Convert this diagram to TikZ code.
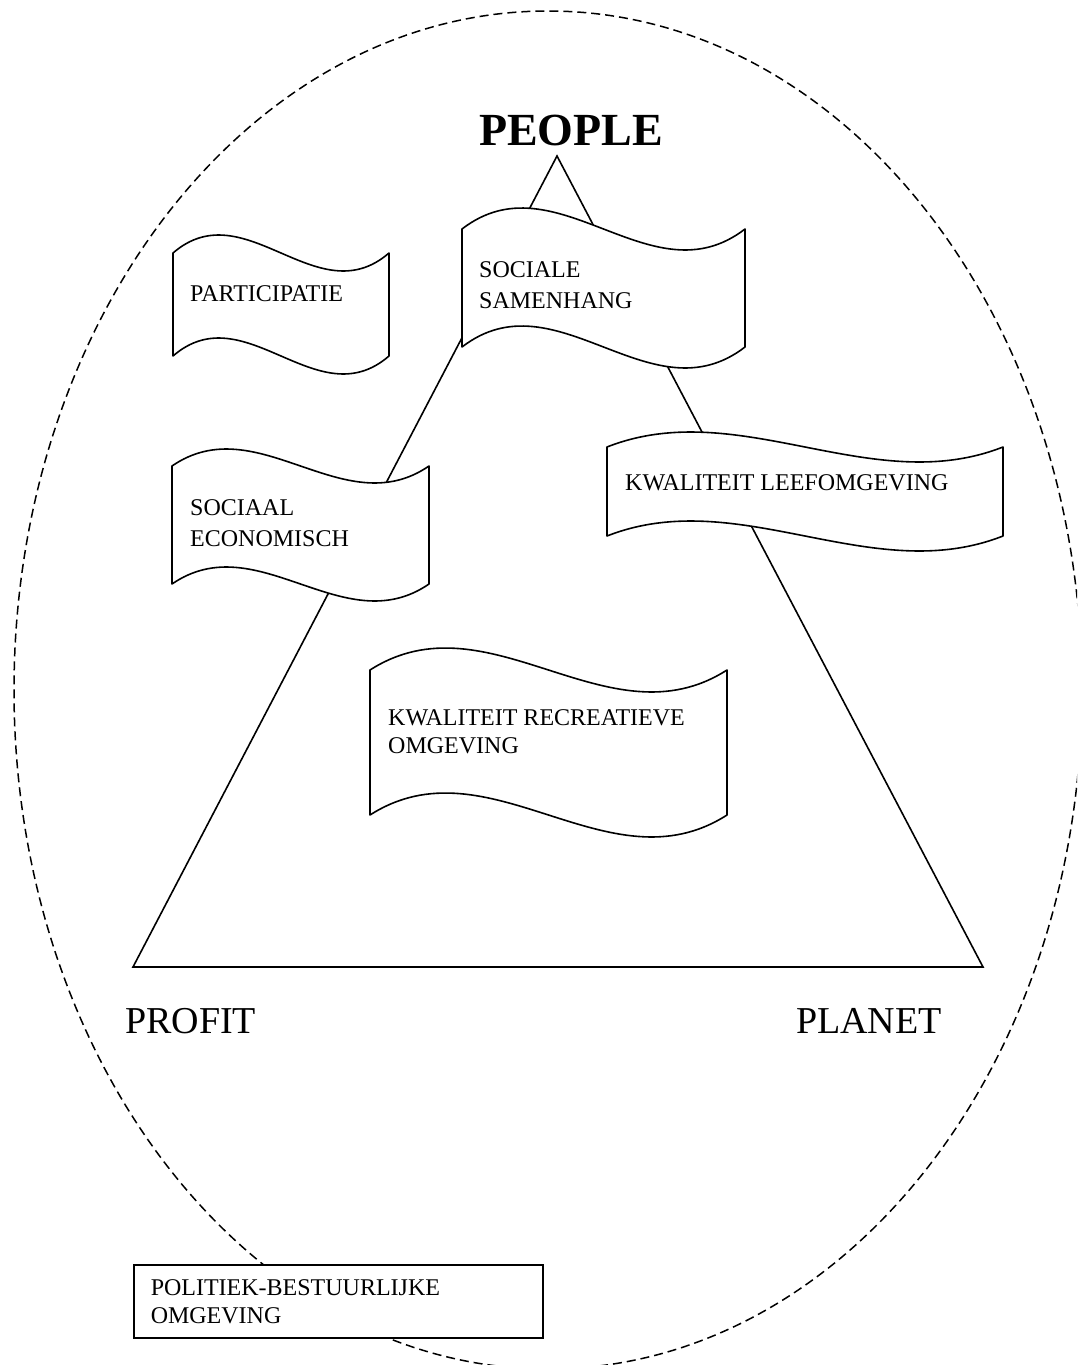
\documentclass[tikz,border=0pt]{standalone}
\usepackage{fontspec}
\setmainfont{Liberation Serif}
\usepackage{tikz}
\usetikzlibrary{calc}

\begin{document}
\begin{tikzpicture}[x=1pt,y=-1pt,
  wavebox/.style={draw, fill=white, line width=1.6pt, line join=round},
  flagtext/.style={inner sep=0pt, anchor=base west, align=left, font=\fontsize{24}{31}\selectfont},
  pointlabel/.style={inner sep=0pt, anchor=base west, font=\fontsize{38}{44}\selectfont},
  toplabel/.style={inner sep=0pt, anchor=base west, font=\fontsize{46}{52}\selectfont\bfseries}]

 \useasboundingbox (0,0) rectangle (1077,1365);
 \clip (0,0) rectangle (1077,1365);

 % omgeving
 \draw[line width=1.5pt, dash pattern=on 9pt off 5pt] (548,690) ellipse [x radius=534, y radius=679];

 % driehoek
 \coordinate (apex) at (557,156);
 \coordinate (profitcorner) at (133,967);
 \coordinate (planetcorner) at (983,967);
 \draw[line width=1.6pt, line join=miter] (apex) -- (profitcorner) -- (planetcorner) -- cycle;

 % flags (text y = baseline of last line)
 \foreach \nm/\l/\t/\r/\b/\a/\tx/\ty/\txt in {
   part/173/253/389/356/18/190/301/{PARTICIPATIE},
   soc/462/229/745/347/21/479/308/{SOCIALE\\SAMENHANG},
   eco/172/466/429/584/17/190/546/{SOCIAAL\\ECONOMISCH},
   leef/607/447/1003/536/15/625/490/{KWALITEIT LEEFOMGEVING},
   recr/370/670/727/815/22/388/753/{KWALITEIT RECREATIEVE\\[-3pt]OMGEVING}} {
   \filldraw[wavebox] (\l,\t) .. controls ({\l+(\r-\l)/3},{\t-3.46*\a}) and ({\l+2*(\r-\l)/3},{\t+3.46*\a}) .. (\r,\t)
      -- (\r,\b) .. controls ({\r-(\r-\l)/3},{\b+3.46*\a}) and ({\r-2*(\r-\l)/3},{\b-3.46*\a}) .. (\l,\b) -- cycle;
   \node[flagtext] (\nm) at (\tx,\ty) {\txt};
 }

 % labels
 \node[toplabel] (people) at (479,145) {PEOPLE};
 \node[pointlabel] (profit) at (125,1033) {PROFIT};
 \node[pointlabel] (planet) at (796,1033) {PLANET};

 \node[draw, fill=white, line width=1.5pt, anchor=north west, minimum width=409pt, minimum height=73pt,
   text width=375pt, inner xsep=17pt, align=left, font=\fontsize{24}{28}\selectfont] (polit) at (133,1264)
   {POLITIEK-BESTUURLIJKE\\OMGEVING};

\end{tikzpicture}
\end{document}
